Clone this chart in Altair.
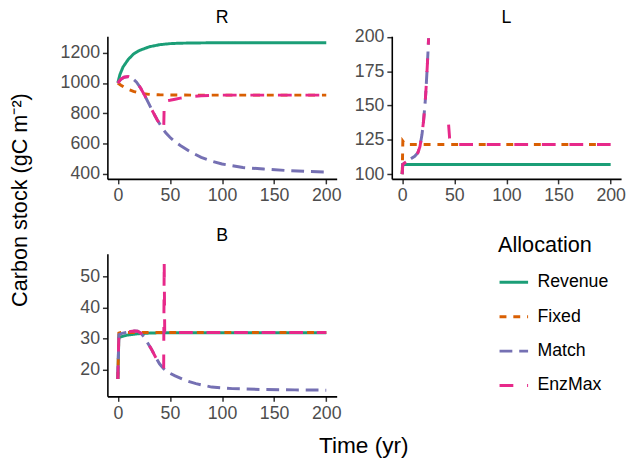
import altair as alt
import pandas as pd

ALLOC = ["Revenue", "Fixed", "Match", "EnzMax"]
COLORS = ["#1B9E77", "#D95F02", "#7570B3", "#E7298A"]
DASHES = [[1, 0], [7, 7], [13, 7], [14, 14]]
PANELS = ["R", "L", "B"]

# ---- panel R ----
R_t_rev = [0, 2, 5, 10, 15, 20, 30, 40, 50, 60, 80, 100, 150, 200]
R_rev = [1000, 1055, 1105, 1155, 1190, 1212, 1238, 1252, 1259, 1262, 1264, 1265, 1265, 1265]
R_t_fix = [0, 3, 6, 10, 15, 20, 25, 30, 40, 50, 70, 100, 200]
R_fix = [1000, 985, 972, 958, 945, 935, 929, 925, 922, 921, 920, 920, 920]
R_t_mat = [0, 3, 6, 10, 14, 18, 22, 26, 30, 34, 38, 42, 46, 50, 55, 60, 70, 80, 90, 100, 120, 140, 160, 180, 200]
R_mat = [1000, 1025, 1038, 1042, 1030, 1005, 965, 915, 860, 805, 755, 710, 672, 642, 612, 588, 545, 510, 485, 466, 443, 433, 424, 418, 413]
R_t_enz = [0, 3, 6, 10, 14, 18, 22, 26, 30, 34, 38, 42, 44, 44.6, 50, 55, 60, 70, 80, 100, 200]
R_enz = [1000, 1025, 1038, 1042, 1030, 1005, 965, 915, 860, 805, 755, 710, 692, 880, 886, 893, 900, 910, 916, 920, 920]

# ---- panel L ----
L_t_rev = [0, 0.5, 200]
L_rev = [100, 107, 107]
L_t_fix = [0, 0.6, 2, 5, 200]
L_fix = [100, 124, 122.5, 121.5, 121.5]
L_t_mat = [0, 0.5, 3, 6, 9, 12, 15, 17, 19, 20.5, 22, 23, 24, 24.8, 25.3]
L_mat = [100, 107, 108.5, 110, 111.5, 113, 115.5, 120, 129, 139, 152, 164, 178, 190, 199]
L_t_enz_a = [0, 0.5, 3, 6, 9, 12, 15, 17, 19, 20.5, 22, 23, 24, 24.8, 25.3]
L_enz_a = [100, 107, 108.5, 110, 111.5, 113, 115.5, 120, 129, 139, 152, 164, 178, 190, 199]
L_t_enz_b = [44.5, 45.5, 47, 50, 200]
L_enz_b = [136, 126, 122, 121.5, 121.5]

# ---- panel B ----
B_t_rev = [0, 1, 3, 6, 10, 15, 20, 30, 40, 60, 200]
B_rev = [17, 30.3, 30.6, 30.9, 31.2, 31.4, 31.6, 31.8, 31.9, 31.9, 31.9]
B_t_fix = [0, 1, 3, 200]
B_fix = [17, 31.8, 32.0, 32.0]
B_t_mat = [0, 1, 4, 8, 12, 16, 19, 22, 25, 28, 32, 36, 40, 44, 48, 55, 65, 75, 90, 110, 140, 170, 200]
B_mat = [17, 31.3, 31.7, 32.0, 32.3, 32.5, 32.4, 31.8, 30.6, 29.0, 26.8, 24.2, 21.9, 20.3, 19.2, 18.0, 16.5, 15.5, 14.4, 13.9, 13.6, 13.5, 13.4]
B_t_enz = [0, 1, 4, 8, 12, 16, 19, 22, 25, 28, 32, 36, 40, 44, 44.5, 45, 60, 200]
B_enz = [17, 31.3, 31.7, 32.0, 32.3, 32.5, 32.4, 31.8, 30.6, 29.0, 26.8, 24.2, 21.9, 20.3, 55, 32, 32, 32]

X_TICKS = [0, 50, 100, 150, 200]
R_TICKS = [400, 600, 800, 1000, 1200]
L_TICKS = [100, 125, 150, 175, 200]
B_TICKS = [20, 30, 40, 50]

series = [
    ("R", "Revenue", 0, R_t_rev, R_rev), ("R", "Fixed", 0, R_t_fix, R_fix),
    ("R", "Match", 0, R_t_mat, R_mat), ("R", "EnzMax", 0, R_t_enz, R_enz),
    ("L", "Revenue", 0, L_t_rev, L_rev), ("L", "Fixed", 0, L_t_fix, L_fix),
    ("L", "Match", 0, L_t_mat, L_mat), ("L", "EnzMax", 0, L_t_enz_a, L_enz_a),
    ("L", "EnzMax", 1, L_t_enz_b, L_enz_b),
    ("B", "Revenue", 0, B_t_rev, B_rev), ("B", "Fixed", 0, B_t_fix, B_fix),
    ("B", "Match", 0, B_t_mat, B_mat), ("B", "EnzMax", 0, B_t_enz, B_enz),
]
recs = []
for p, a, s, ts, vs in series:
    for t, v in zip(ts, vs):
        recs.append({"panel": p, "alloc": a, "seg": s, "t": t, "v": v})
df = pd.DataFrame(recs)

FONT = "Liberation Sans"
W, H = 233, 145
color_scale = alt.Scale(domain=ALLOC, range=COLORS)
dash_scale = alt.Scale(domain=ALLOC, range=DASHES)


def panel(p, ydom, xaxis, yaxis):
    layers = []
    for a in ALLOC:
        sub = df[(df.panel == p) & (df.alloc == a)]
        layers.append(
            alt.Chart(sub).mark_line(strokeWidth=3, clip=True, strokeCap="butt").encode(
                x=alt.X("t:Q", scale=alt.Scale(domain=[-10, 210], nice=False, zero=False), axis=xaxis),
                y=alt.Y("v:Q", scale=alt.Scale(domain=ydom, nice=False, zero=False), axis=yaxis),
                color=alt.Color("alloc:N", scale=color_scale, title="Allocation"),
                strokeDash=alt.StrokeDash("alloc:N", scale=dash_scale, title="Allocation"),
                detail="seg:N",
                order="t:Q",
            )
        )
    label = alt.Chart(pd.DataFrame({"lab": [p]})).mark_text(
        fontSize=18, font=FONT, color="black", baseline="middle", align="center"
    ).encode(x=alt.value(W / 2), y=alt.value(-18), text="lab:N")
    layers.append(label)
    return alt.layer(*layers).properties(width=W, height=H)


plain_x = alt.Axis(values=X_TICKS, title=None, format="d")
R = panel("R", [368, 1308], plain_x, alt.Axis(values=R_TICKS, title=None, format="d"))
L = panel("L", [96.5, 200.5], plain_x, alt.Axis(values=L_TICKS, title=None, format="d"))
B = panel(
    "B", [11.4, 57.4],
    alt.Axis(values=X_TICKS, format="d", title="Time (yr)", titleX=260, titleY=57, titleBaseline="alphabetic",
             titleFontSize=23, titleFont=FONT, titleFontWeight="normal", titleColor="black"),
    alt.Axis(values=B_TICKS, format="d", title="Carbon stock (gC m⁻²)", titleX=-89, titleY=-55, titleAngle=270,
             titleAlign="center", titleBaseline="middle",
             titleFontSize=22, titleFont=FONT, titleFontWeight="normal", titleColor="black"),
)

chart = alt.concat(R, L, B, columns=2, spacing={"row": 76, "column": 56}, bounds="flush").resolve_scale(
    color="shared", strokeDash="shared"
).properties(padding={"left": 0, "top": -2, "right": 0, "bottom": 0}).configure_view(
    stroke=None
).configure_axis(
    domainColor="black", domainWidth=1.6, tickColor="#333333", tickWidth=1.5, tickSize=5,
    labelColor="#4D4D4D", labelFontSize=18, labelFont=FONT, grid=False, labelPadding=3,
).configure_legend(
    orient="none", legendX=397, legendY=202,
    titleFontSize=22, titleFont=FONT, titleFontWeight="normal", titleColor="black",
    labelFontSize=18, labelFont=FONT, labelColor="black",
    symbolType="stroke", symbolStrokeWidth=3, symbolSize=841, rowPadding=10, labelOffset=8, titlePadding=10,
)

chart.save("out.html", embed_options={"renderer": "svg", "actions": False})
